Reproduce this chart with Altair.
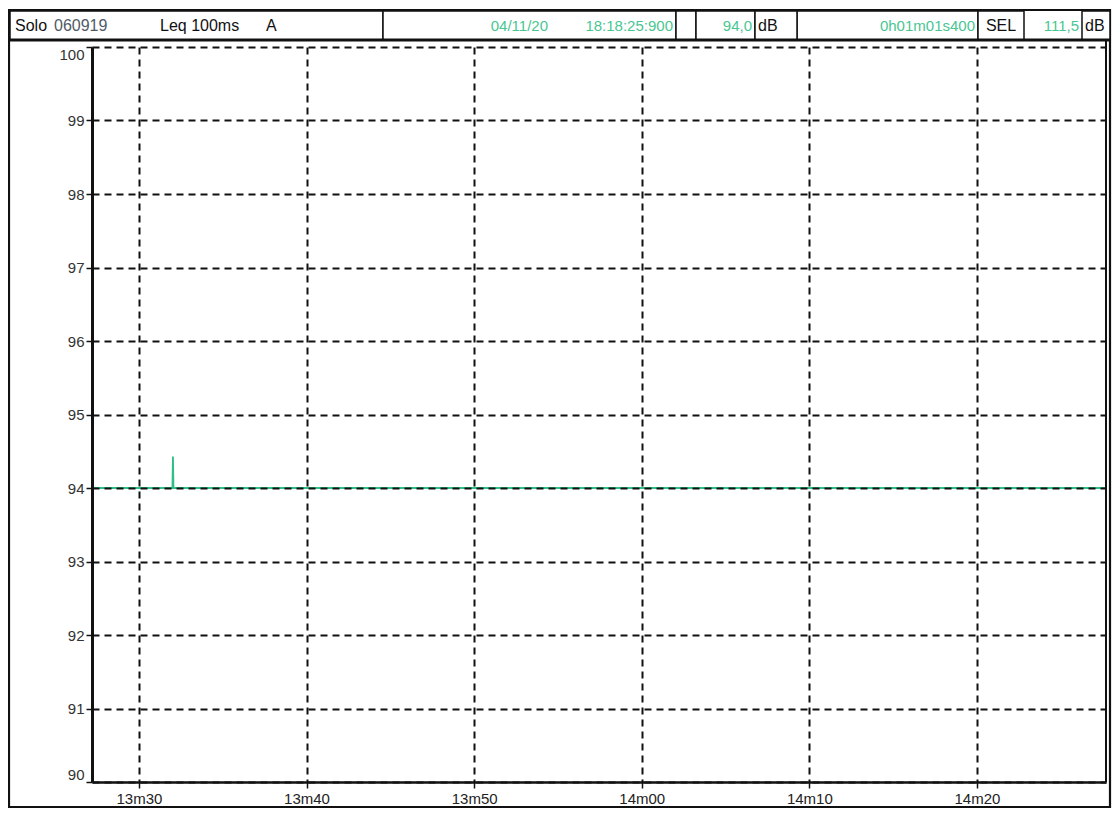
import altair as alt
import pandas as pd

# ---- data ----
times_s = [807.2, 812.0, 812.03, 812.06, 867.7]      # seconds after 18h00 (13m27.2s ... 14m27.7s)
levels_db = [94.0, 94.0, 94.43, 94.0, 94.0]
x_ticks = [810, 820, 830, 840, 850, 860]
y_ticks = [90, 91, 92, 93, 94, 95, 96, 97, 98, 99, 100]

header_black = ["Solo", "Leq 100ms", "A", "dB", "SEL", "dB"]
header_grey = ["060919"]
header_green = ["04/11/20", "18:18:25:900", "94,0", "0h01m01s400", "111,5"]

GREEN = "#2fbf86"
GREEN_TXT = "#48c692"
FONT = "Liberation Sans"
W, H = 1014, 735
X0, Y0 = 92, 47  # absolute position of plot origin (for decoration layout)

df = pd.DataFrame({"t": times_s, "db": levels_db})

x_enc = alt.X("t:Q",
              scale=alt.Scale(domain=[807.2, 867.7], nice=False, zero=False),
              axis=alt.Axis(values=x_ticks, title=None,
                            labelExpr="floor(datum.value/60) + 'm' + (datum.value%60 < 10 ? '0' : '') + (datum.value%60)",
                            labelFont=FONT, labelFontSize=15, labelColor="#222",
                            labelPadding=3, labelFlush=False,
                            domainColor="#111", domainWidth=2.5,
                            tickColor="#111", tickWidth=1.5, tickSize=6,
                            grid=True, gridColor="#111", gridDash=[7, 5], gridWidth=2,
                            zindex=1))
y_enc = alt.Y("db:Q",
              scale=alt.Scale(domain=[90, 100], nice=False, zero=False),
              axis=alt.Axis(values=y_ticks, title=None, format="d",
                            labelFont=FONT, labelFontSize=15, labelColor="#333",
                            labelPadding=2, labelFlush=True,
                            domainColor="#111", domainWidth=3,
                            tickColor="#111", tickWidth=1.5, tickSize=6,
                            grid=True, gridColor="#111", gridDash=[7, 5], gridWidth=2,
                            zindex=1))

line = alt.Chart(df).mark_line(color=GREEN, strokeWidth=1.8).encode(x=x_enc, y=y_enc)

one = pd.DataFrame({"k": [0]})


def box(x1, x2, y1=11, y2=40, fill="white", sw=1.5):
    return alt.Chart(one).mark_rect(fill=fill, stroke="#111", strokeWidth=sw).encode(
        x=alt.value(x1 - X0), x2=alt.value(x2 - X0),
        y=alt.value(y1 - Y0), y2=alt.value(y2 - Y0))


def txt(s, x, align, color, size=16):
    return alt.Chart(pd.DataFrame({"label": [s]})).mark_text(
        align=align, baseline="middle", font=FONT, fontSize=size, color=color
    ).encode(text="label:N", x=alt.value(x - X0), y=alt.value(26 - Y0))


frame = alt.Chart(one).mark_rect(fill=None, stroke="#111", strokeWidth=2.2).encode(
    x=alt.value(9 - X0), x2=alt.value(1110 - X0),
    y=alt.value(10 - Y0), y2=alt.value(807 - Y0))
right_border = alt.Chart(one).mark_rule(color="#111", strokeWidth=2).encode(
    x=alt.value(W), y=alt.value(-7), y2=alt.value(H))
header_rule = alt.Chart(one).mark_rule(color="#111", strokeWidth=3).encode(
    x=alt.value(9 - X0), x2=alt.value(1110 - X0), y=alt.value(40 - Y0))

base_boxes = [box(10, 383), box(383, 676), box(676, 696), box(696, 755), box(797, 978)]
base_texts = [
    txt(header_black[0], 15, "left", "#111"),
    txt(header_grey[0], 54, "left", "#4f5a66"),
    txt(header_black[1], 160, "left", "#111"),
    txt(header_black[2], 266, "left", "#111"),
    txt(header_green[0], 548, "right", GREEN_TXT, 15),
    txt(header_green[1], 673, "right", GREEN_TXT, 15),
    txt(header_green[2], 752, "right", GREEN_TXT, 15),
    txt(header_green[3], 975, "right", GREEN_TXT, 15),
    txt(header_green[4], 1079, "right", GREEN_TXT, 15),
]
cover_boxes = [box(755, 797), box(978, 1024), box(1082, 1110)]
cover_texts = [
    txt(header_black[3], 758, "left", "#111"),
    txt(header_black[4], 1001, "center", "#111"),
    txt(header_black[5], 1085, "left", "#111"),
]

chart = alt.layer(
    line, right_border, frame, *base_boxes, *base_texts, *cover_boxes, *cover_texts, header_rule
).properties(
    width=W, height=H,
    padding={"left": 84, "top": 39, "right": 6, "bottom": 26},
    autosize=alt.AutoSizeParams(type="none"),
    background="white",
).configure_view(strokeWidth=0)

chart.save("out.html", embed_options={"renderer": "svg", "actions": False})
